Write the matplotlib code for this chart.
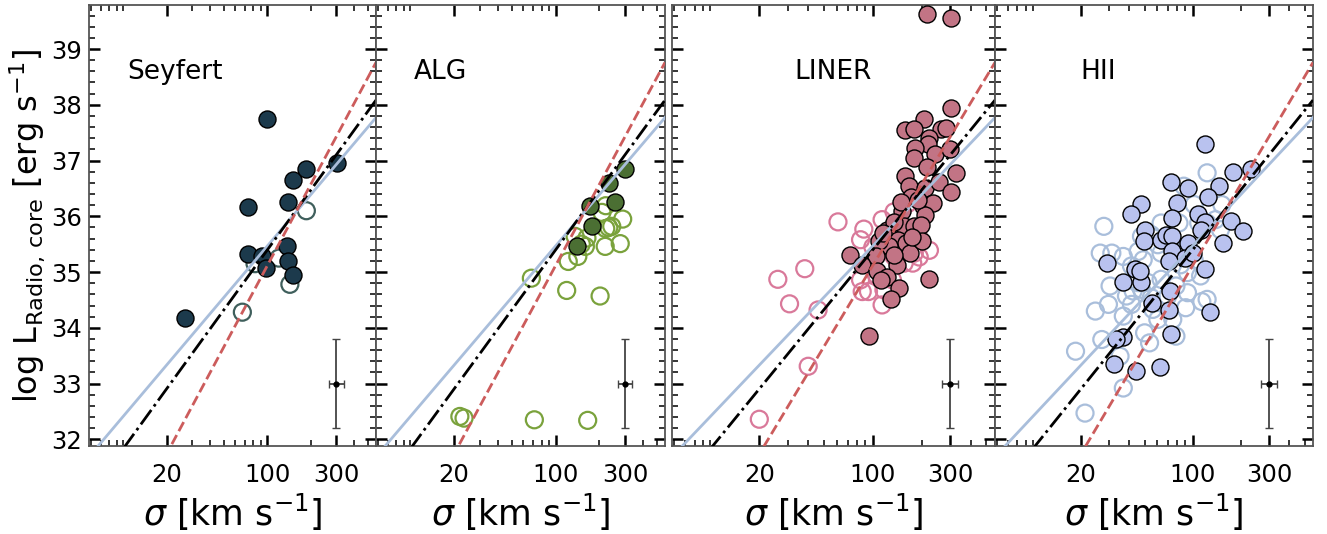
import numpy as np
import matplotlib
matplotlib.use("Agg")
import matplotlib.pyplot as plt
from matplotlib.ticker import FixedLocator, FixedFormatter, LogLocator, NullFormatter, MultipleLocator

# ---- data ----
# Seyfert
sey_fill_sig = [27, 100, 73.5, 72.8, 92, 98, 139, 151, 184, 302, 136, 139, 151]
sey_fill_L = [34.18, 37.75, 36.16, 35.33, 35.28, 35.07, 36.25, 36.65, 36.84, 36.95, 35.47, 35.20, 34.94]
sey_open_sig = [67, 186, 143, 120, 82]
sey_open_L = [34.28, 36.10, 34.78, 35.25, 35.15]

# ALG
alg_fill_sig = [301, 233, 257, 171, 179, 140]
alg_fill_L = [36.85, 36.60, 36.25, 36.19, 35.82, 35.46]
alg_open_sig = [68, 119, 202, 122, 142, 136, 164, 160, 219, 278, 221, 243, 232, 289, 208, 221, 150,
                21.9, 23.4, 71.3, 166]
alg_open_L = [34.89, 34.67, 34.57, 35.19, 35.28, 35.64, 35.61, 35.46, 35.46, 35.51, 35.78, 35.82, 35.80,
              35.95, 36.07, 36.19, 35.50, 32.41, 32.38, 32.35, 32.34]

# LINER
liner_fill_sig = [216, 301, 301, 206, 158, 180, 261, 283, 223, 218, 182, 180, 240, 297, 216, 327, 157,
                  168, 208, 255, 304, 172, 203, 234, 208, 152, 156, 180, 198, 123, 142, 160, 126, 109,
                  72.7, 104, 86, 140, 106, 123, 112, 144, 129, 221, 95,
                  148, 190, 135, 115, 170, 135, 200, 175]
liner_fill_L = [39.63, 39.55, 37.94, 37.75, 37.54, 37.56, 37.56, 37.58, 37.41, 37.30, 37.23, 37.04, 37.12,
                37.21, 36.89, 36.78, 36.73,
                36.54, 36.50, 36.62, 36.43, 36.35, 36.18, 36.23, 36.02, 36.09, 35.82, 35.82, 35.85, 35.76,
                35.58, 35.52, 35.46, 35.55, 35.31, 35.28, 35.13, 35.13, 35.01, 34.92, 34.86, 34.71, 34.51,
                34.87, 33.85,
                36.25, 36.30, 35.90, 35.70, 35.35, 35.30, 35.55, 35.62]
liner_open_sig = [61, 88, 84, 114, 135, 84, 86, 94, 114, 30.7, 26, 38.1, 46, 40, 20, 117, 180, 193, 223,
                  176, 156, 132, 189, 150, 164, 135, 100, 125, 105]
liner_open_L = [35.90, 35.77, 35.58, 35.94, 36.08, 34.86, 34.65, 34.65, 34.41, 34.43, 34.87, 35.06, 34.32,
                33.31, 32.36, 34.68, 35.34, 35.27, 35.39, 35.16, 35.16, 34.86, 35.70, 35.70, 36.23, 35.28,
                35.45, 35.10, 34.95]

# HII
hii_fill_sig = [118.6, 179, 232, 72.8, 93.6, 145, 124, 80, 47.5, 41.2, 74, 108, 119, 173, 206, 113, 155,
                50.6, 49.9, 63, 68, 74, 74, 93.6, 90, 101, 71, 28.9, 43.3, 119, 36.6, 47.5, 72, 55.6, 71,
                128.5, 36.6, 33.3, 72.8, 32.2, 43.9, 62.2, 46.5]
hii_fill_L = [37.30, 36.79, 36.84, 36.62, 36.50, 36.55, 36.34, 36.23, 36.22, 36.04, 35.97, 36.04, 35.90,
              35.92, 35.73, 35.76, 35.53, 35.76, 35.56, 35.58, 35.67, 35.65, 35.37, 35.52, 35.25, 35.34,
              35.19, 35.17, 35.05, 35.05, 34.83, 34.83, 34.66, 34.44, 34.32, 34.29, 33.83, 33.80, 33.89,
              33.35, 33.22, 33.30, 35.02]
hii_open_sig = [27.8, 26.4, 31.2, 36.8, 45.6, 49, 41.4, 30.4, 29.7, 24.6, 18.5, 27, 36.8, 41.4, 42.4, 47.8,
                52.5, 56.3, 50, 53.7, 35.1, 36.8, 63.4, 60.5, 73, 82, 102, 88, 123, 139, 149, 123, 152,
                109, 84, 102, 92.7, 112, 78.5, 92.7, 90.4, 75, 123, 78.5, 60.5, 55, 63.4, 69.8, 45.6,
                38.5, 47.8, 55, 63.4, 21.2, 114]
hii_open_L = [35.82, 35.34, 35.34, 35.28, 35.37, 35.22, 35.11, 34.75, 34.42, 34.30, 33.58, 33.79, 34.21,
              34.42, 34.66, 34.69, 34.81, 34.33, 33.91, 33.73, 33.49, 32.92, 35.88, 35.49, 35.55, 35.88,
              36.21, 36.54, 36.78, 35.94, 35.76, 35.88, 36.21, 35.88, 35.13, 35.22, 34.99, 34.93, 34.75,
              34.63, 34.36, 34.15, 34.51, 33.85, 34.15, 34.54, 34.87, 34.57, 34.81, 34.57, 35.64, 35.67,
              35.34, 32.47, 34.47]

# relations: log L = a + b * (log sigma - 2)
fit_names = ["blue", "black", "red"]
fit_a = [35.47, 35.40, 35.12]
fit_b = [3.06, 3.57, 4.84]

panel_names = ["Seyfert", "ALG", "LINER", "HII"]

# ---- figure ----
W, H = 1327, 534
fig = plt.figure(figsize=(W / 100, H / 100), dpi=100)

# axes boxes in pixels (left, right)
boxes = [(89, 376), (376, 665), (672, 995), (995, 1313)]
bottom_px, top_px = 446, 5

groups = [
    (sey_fill_sig, sey_fill_L, sey_open_sig, sey_open_L, "#1c3a4c", "#3f5f5c"),
    (alg_fill_sig, alg_fill_L, alg_open_sig, alg_open_L, "#4b6f33", "#7aa23c"),
    (liner_fill_sig, liner_fill_L, liner_open_sig, liner_open_L, "#c27485", "#d9799a"),
    (hii_fill_sig, hii_fill_L, hii_open_sig, hii_open_L, "#b9c2ef", "#a9bedb"),
]
label_x = [0.135, 0.13, 0.38, 0.27]

line_styles = [
    dict(color="#a9bedb", ls="-", lw=2.0),
    dict(color="black", ls="-.", lw=2.0),
    dict(color="#cc5c5c", ls="--", lw=2.0),
]

xlo, xhi = 5.8, 565
xx = np.array([xlo, xhi])

for i, (l, r) in enumerate(boxes):
    ax = fig.add_axes([l / W, (H - bottom_px) / H, (r - l) / W, (bottom_px - top_px) / H])
    fs, fL, os_, oL, fcol, ocol = groups[i]

    ax.scatter(os_, oL, s=150, facecolors="none", edgecolors=ocol, linewidths=1.6, zorder=2)
    ax.scatter(fs, fL, s=150, facecolors=fcol, edgecolors="black", linewidths=1.0, zorder=3)

    for a, b, st in zip(fit_a, fit_b, line_styles):
        ax.plot(xx, a + b * (np.log10(xx) - 2), zorder=4, **st)

    ax.errorbar(300, 33, xerr=[[32.6], [36.6]], yerr=0.8, fmt="o", ms=3.5, color="black",
                ecolor="#444444", elinewidth=1.3, capsize=3, capthick=1.0, zorder=5)

    ax.set_xscale("log")
    ax.set_xlim(xlo, xhi)
    ax.set_ylim(31.88, 39.79)

    ax.xaxis.set_major_locator(FixedLocator([20, 100, 300]))
    ax.xaxis.set_major_formatter(FixedFormatter(["20", "100", "300"]))
    ax.xaxis.set_minor_locator(LogLocator(base=10, subs=np.arange(1, 10), numticks=30))
    ax.xaxis.set_minor_formatter(NullFormatter())
    ax.yaxis.set_major_locator(MultipleLocator(1))
    ax.yaxis.set_minor_locator(MultipleLocator(0.2))

    ax.tick_params(which="both", direction="in", top=True, right=True)
    ax.tick_params(which="major", length=8, width=1.8, labelsize=17.5, pad=12)
    ax.tick_params(which="minor", length=4, width=1.1)
    ax.tick_params(axis="y", which="major", pad=5)
    if i != 0:
        ax.tick_params(axis="y", labelleft=False)
    else:
        ax.set_ylabel(r"log L$_{\rm Radio,\,core}$ [erg s$^{-1}$]", fontsize=23, labelpad=3)

    for sp in ax.spines.values():
        sp.set_color("#555555")
        sp.set_linewidth(1.3)

    ax.set_xlabel(r"$\sigma$ [km s$^{-1}$]", fontsize=25, labelpad=4)
    ax.text(label_x[i], 0.848, panel_names[i], transform=ax.transAxes, fontsize=19, va="center")

fig.savefig("out.png", dpi=100)
